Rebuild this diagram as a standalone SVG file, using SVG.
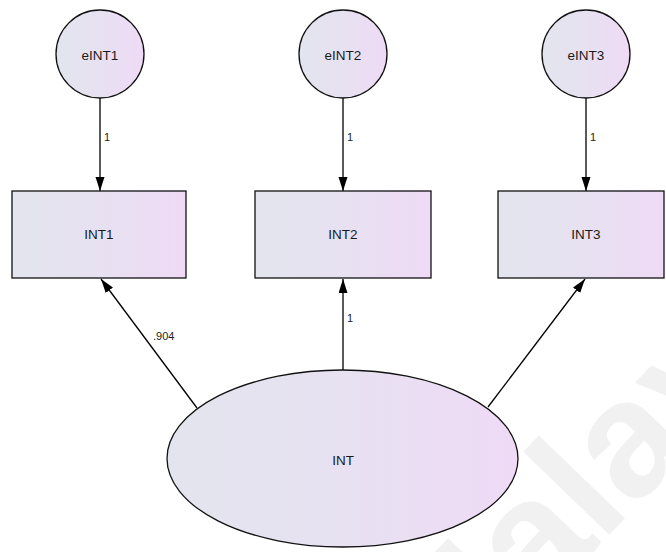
<svg xmlns="http://www.w3.org/2000/svg" width="666" height="552" viewBox="0 0 666 552">
  <defs>
    <linearGradient id="fillGrad" x1="0" y1="0" x2="1" y2="0">
      <stop offset="0" stop-color="#e3e5ee"/>
      <stop offset="0.5" stop-color="#e7e1f1"/>
      <stop offset="1" stop-color="#efdaf6"/>
    </linearGradient>
    <marker id="arrow" markerUnits="userSpaceOnUse" markerWidth="15" markerHeight="10" refX="14" refY="4.5" orient="auto">
      <path d="M0,0 L14,4.5 L0,9 z" fill="#000"/>
    </marker>
    <style>
      .shape { fill: url(#fillGrad); stroke: #111; stroke-width: 1.3; }
      .lbl { font-family: "Liberation Sans", Arial, sans-serif; font-size: 13.5px; fill: #1a1a1a; text-anchor: middle; }
      .coef { font-family: "Liberation Sans", Arial, sans-serif; font-size: 11px; fill: #222; }
      .path { stroke: #000; stroke-width: 1.3; fill: none; marker-end: url(#arrow); }
      .mark { font-family: "Liberation Sans", Arial, sans-serif; font-weight: bold; font-size: 165px; fill: #f1f1f1; }
    </style>
  </defs>

  <rect width="666" height="552" fill="#fff"/>

  <!-- faint background watermark -->
  <text class="mark" transform="translate(442,708) rotate(-46)">Malaya</text>

  <!-- connectors -->
  <g id="connectors">
    <line class="path" x1="100" y1="98" x2="100" y2="191"/>
    <line class="path" x1="343" y1="98" x2="343" y2="191"/>
    <line class="path" x1="586" y1="98" x2="586" y2="191"/>
    <line class="path" x1="197" y1="408" x2="101" y2="279"/>
    <line class="path" x1="343" y1="370" x2="343" y2="279"/>
    <line class="path" x1="488" y1="407" x2="585" y2="279"/>
    <text class="coef" x="104" y="141">1</text>
    <text class="coef" x="347" y="141">1</text>
    <text class="coef" x="590" y="141">1</text>
    <text class="coef" x="153" y="340">.904</text>
    <text class="coef" x="347" y="322">1</text>
  </g>

  <!-- error terms -->
  <g id="eINT1">
    <circle class="shape" cx="100" cy="54" r="44"/>
    <text class="lbl" x="100" y="59.5">eINT1</text>
  </g>
  <g id="eINT2">
    <circle class="shape" cx="343" cy="54" r="44"/>
    <text class="lbl" x="343" y="59.5">eINT2</text>
  </g>
  <g id="eINT3">
    <circle class="shape" cx="586" cy="54" r="44"/>
    <text class="lbl" x="586" y="59.5">eINT3</text>
  </g>

  <!-- observed indicators -->
  <g id="INT1">
    <rect class="shape" x="12" y="191" width="174" height="87"/>
    <text class="lbl" x="99" y="238.5">INT1</text>
  </g>
  <g id="INT2">
    <rect class="shape" x="255" y="191" width="176" height="87"/>
    <text class="lbl" x="343" y="238.5">INT2</text>
  </g>
  <g id="INT3">
    <rect class="shape" x="498" y="191" width="166" height="87"/>
    <text class="lbl" x="586" y="238.5">INT3</text>
  </g>

  <!-- latent factor -->
  <g id="INT">
    <ellipse class="shape" cx="342.5" cy="458.5" rx="175.5" ry="88.5"/>
    <text class="lbl" x="343" y="464.5">INT</text>
  </g>
</svg>
